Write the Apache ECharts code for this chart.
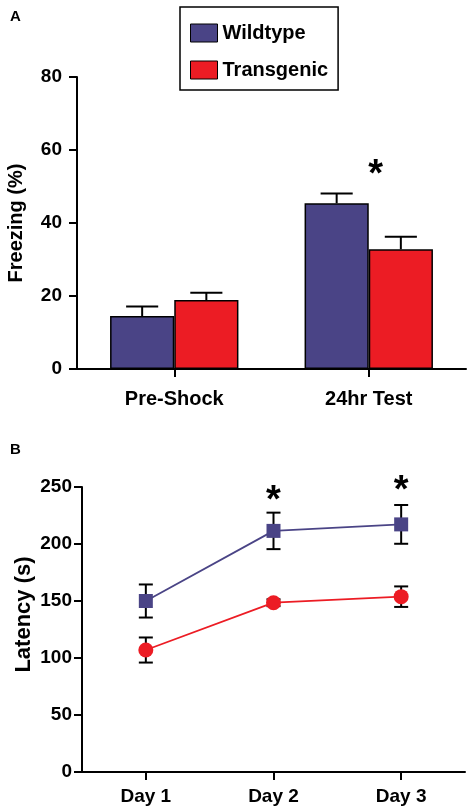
<!DOCTYPE html>
<html>
<head>
<meta charset="utf-8">
<script src="https://cdn.jsdelivr.net/npm/echarts@6/dist/echarts.min.js"></script>
<style>
html,body{margin:0;padding:0;background:#fff;}
#chart{width:473px;height:812px;}
</style>
</head>
<body>
<div id="chart"></div>
<script>
// ---- Panel A data ----
const groupsA = ['Pre-Shock', '24hr Test'];
const seriesNames = ['Wildtype', 'Transgenic'];
const wildtypeFreezing = [14.5, 45.4];
const wildtypeFreezingErr = [2.6, 2.7];
const transgenicFreezing = [18.9, 32.8];
const transgenicFreezingErr = [2.0, 3.4];
const freezingAxis = { min: 0, max: 80, interval: 20 };
const sigA = [['24hr Test', 53]];

// ---- Panel B data ----
const days = ['Day 1', 'Day 2', 'Day 3'];
const wildtypeLatency = [150, 211.5, 217.2];
const wildtypeLatencyErr = [14.5, 16, 17];
const transgenicLatency = [107, 148.5, 153.8];
const transgenicLatencyErr = [11, 3, 9];
const latencyAxis = { min: 0, max: 250, interval: 50 };
const sigB = [['Day 2', 237], ['Day 3', 246]];

const WT = '#4a4486';
const TG = '#ec1c24';
const FONT = '"Liberation Sans", Arial, sans-serif';

const chart = echarts.init(document.getElementById('chart'), null, { renderer: 'canvas' });

function barErr(side, values, errs) {
  return {
    type: 'custom',
    xAxisIndex: 0, yAxisIndex: 0,
    z: 5,
    silent: true,
    data: values.map((v, i) => [i, v, errs[i]]),
    renderItem: function (params, api) {
      const band = api.size([1, 0])[0];
      const bw = band * (1 - 0.34) / 2;
      const base = api.coord([api.value(0), api.value(1)]);
      const top = api.coord([api.value(0), api.value(1) + api.value(2)]);
      const x = base[0] + side * bw / 2;
      const cap = bw / 2;
      return {
        type: 'group',
        children: [
          { type: 'line', shape: { x1: x, y1: base[1], x2: x, y2: top[1] }, style: { stroke: '#000', lineWidth: 2 } },
          { type: 'line', shape: { x1: x - cap / 2, y1: top[1], x2: x + cap / 2, y2: top[1] }, style: { stroke: '#000', lineWidth: 2 } }
        ]
      };
    }
  };
}

function lineErr(values, errs) {
  return {
    type: 'custom',
    xAxisIndex: 1, yAxisIndex: 1,
    z: 1,
    silent: true,
    data: values.map((v, i) => [i, v, errs[i]]),
    renderItem: function (params, api) {
      const hi = api.coord([api.value(0), api.value(1) + api.value(2)]);
      const lo = api.coord([api.value(0), api.value(1) - api.value(2)]);
      const x = hi[0];
      const cap = 14;
      const st = { stroke: '#000', lineWidth: 2 };
      return {
        type: 'group',
        children: [
          { type: 'line', shape: { x1: x, y1: lo[1], x2: x, y2: hi[1] }, style: st },
          { type: 'line', shape: { x1: x - cap / 2, y1: hi[1], x2: x + cap / 2, y2: hi[1] }, style: st },
          { type: 'line', shape: { x1: x - cap / 2, y1: lo[1], x2: x + cap / 2, y2: lo[1] }, style: st }
        ]
      };
    }
  };
}

function stars(data, xi, dx) {
  return {
    type: 'custom',
    xAxisIndex: xi, yAxisIndex: xi,
    z: 10,
    silent: true,
    data: data,
    renderItem: function (params, api) {
      const p = api.coord([api.value(0), api.value(1)]);
      return {
        type: 'text',
        x: p[0] + dx, y: p[1],
        style: { text: '*', fill: '#000', font: 'bold 38px ' + FONT, align: 'center', verticalAlign: 'middle' }
      };
    }
  };
}

const axisLine = { show: true, lineStyle: { color: '#000', width: 2 } };
const axisTick = { show: true, length: 8, lineStyle: { color: '#000', width: 2 } };

const option = {
  backgroundColor: '#fff',
  animation: false,
  textStyle: { fontFamily: FONT },
  title: [
    { text: 'A', left: 10, top: 9, padding: 0, textStyle: { fontSize: 15, fontWeight: 'bold', color: '#000', fontFamily: FONT } },
    { text: 'B', left: 10, top: 442, padding: 0, textStyle: { fontSize: 15, fontWeight: 'bold', color: '#000', fontFamily: FONT } }
  ],
  legend: {
    data: seriesNames,
    orient: 'vertical',
    left: 180, top: 7,
    padding: [16, 10, 10, 10],
    itemWidth: 27, itemHeight: 18, itemGap: 17,
    icon: 'rect',
    borderColor: '#000', borderWidth: 1.5,
    itemStyle: { borderColor: '#000', borderWidth: 1 },
    textStyle: { fontSize: 20, fontWeight: 'bold', color: '#000', fontFamily: FONT },
    selectedMode: false
  },
  grid: [
    { left: 77, right: 7, top: 77, height: 292, outerBoundsMode: 'none', containLabel: false },
    { left: 82, right: 8, top: 487, height: 285, outerBoundsMode: 'none', containLabel: false }
  ],
  xAxis: [
    {
      type: 'category', gridIndex: 0, data: groupsA,
      axisLine: axisLine, axisTick: Object.assign({ alignWithLabel: true }, axisTick),
      axisLabel: { color: '#000', fontSize: 20, fontWeight: 'bold', margin: 20, fontFamily: FONT }
    },
    {
      type: 'category', gridIndex: 1, data: days,
      axisLine: axisLine, axisTick: Object.assign({ alignWithLabel: true }, axisTick),
      axisLabel: { color: '#000', fontSize: 19, fontWeight: 'bold', margin: 15, fontFamily: FONT }
    }
  ],
  yAxis: [
    {
      type: 'value', gridIndex: 0,
      min: freezingAxis.min, max: freezingAxis.max, interval: freezingAxis.interval,
      name: 'Freezing (%)', nameLocation: 'middle', nameGap: 51, nameRotate: 90, nameMoveOverlap: false,
      nameTextStyle: { color: '#000', fontSize: 20, fontWeight: 'bold', fontFamily: FONT },
      axisLine: axisLine, axisTick: axisTick, splitLine: { show: false },
      axisLabel: { color: '#000', fontSize: 19, fontWeight: 'bold', margin: 15, fontFamily: FONT }
    },
    {
      type: 'value', gridIndex: 1,
      min: latencyAxis.min, max: latencyAxis.max, interval: latencyAxis.interval,
      name: 'Latency (s)', nameLocation: 'middle', nameGap: 47, nameRotate: 90, nameMoveOverlap: false,
      nameTextStyle: { color: '#000', fontSize: 22, fontWeight: 'bold', fontFamily: FONT, padding: [0, 0, 0, 30] },
      axisLine: axisLine, axisTick: axisTick, splitLine: { show: false },
      axisLabel: { color: '#000', fontSize: 19, fontWeight: 'bold', margin: 10, fontFamily: FONT }
    }
  ],
  series: [
    {
      name: seriesNames[0], type: 'bar', xAxisIndex: 0, yAxisIndex: 0,
      data: wildtypeFreezing, barGap: '0%', barCategoryGap: '34%',
      itemStyle: { color: WT, borderColor: '#000', borderWidth: 1.5 }
    },
    {
      name: seriesNames[1], type: 'bar', xAxisIndex: 0, yAxisIndex: 0,
      data: transgenicFreezing, barGap: '0%', barCategoryGap: '34%',
      itemStyle: { color: TG, borderColor: '#000', borderWidth: 1.5 }
    },
    barErr(-1, wildtypeFreezing, wildtypeFreezingErr),
    barErr(1, transgenicFreezing, transgenicFreezingErr),
    stars(sigA, 0, 7),
    lineErr(wildtypeLatency, wildtypeLatencyErr),
    lineErr(transgenicLatency, transgenicLatencyErr),
    {
      name: seriesNames[0], type: 'line', xAxisIndex: 1, yAxisIndex: 1,
      data: wildtypeLatency, symbol: 'rect', symbolSize: 14, z: 3,
      lineStyle: { color: WT, width: 1.8 }, itemStyle: { color: WT }
    },
    {
      name: seriesNames[1], type: 'line', xAxisIndex: 1, yAxisIndex: 1,
      data: transgenicLatency, symbol: 'circle', symbolSize: 15, z: 3,
      lineStyle: { color: TG, width: 1.8 }, itemStyle: { color: TG }
    },
    stars(sigB, 1, 0)
  ]
};
chart.setOption(option);
</script>
</body>
</html>
